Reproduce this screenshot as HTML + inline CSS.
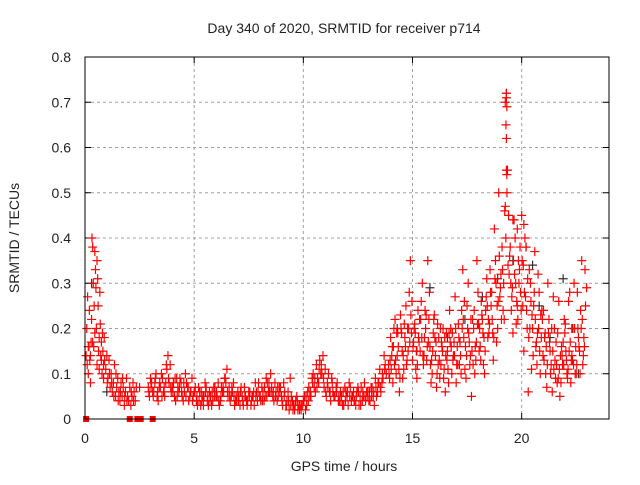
<!DOCTYPE html>
<html><head><meta charset="utf-8"><style>
body{margin:0;background:#fff}
svg text{font-family:"Liberation Sans",sans-serif;font-size:14px;fill:#222}
</style></head><body>
<svg id="chart" width="640" height="480" xmlns="http://www.w3.org/2000/svg">
<rect width="640" height="480" fill="#fff"/>
<text x="344" y="33" text-anchor="middle">Day 340 of 2020, SRMTID for receiver p714</text>
<text transform="translate(19,238) rotate(-90)" text-anchor="middle">SRMTID / TECUs</text>
<text x="344" y="471" text-anchor="middle">GPS time / hours</text>
<g id="grid"></g>
<g id="ticks"></g>
<g id="black"></g>
<g id="red"></g>
<rect x="85" y="57" width="524" height="362" fill="none" stroke="#000" stroke-width="1"/>
</svg>
<script>
const xTicks=[0,5,10,15,20];
const yTicks=[0,0.1,0.2,0.3,0.4,0.5,0.6,0.7,0.8];
const yTickLabels=["0","0.1","0.2","0.3","0.4","0.5","0.6","0.7","0.8"];
const zeroSquares=[0.05,2.05,2.4,2.55,3.1];
const earlyPoints=[[0.05,.14],[0.08,.2],[0.1,.12],[0.12,.27],[0.15,.1],[0.18,.16],[0.2,.24],[0.22,.13],[0.25,.08],[0.28,.17],[0.3,.22],[0.32,.4],[0.35,.38],[0.38,.3],[0.4,.16],[0.42,.25],[0.45,.37],[0.48,.33],[0.5,.29],[0.52,.2],[0.55,.35],[0.58,.31],[0.6,.25],[0.62,.15],[0.65,.18],[0.68,.28],[0.7,.21],[0.72,.14],[0.75,.17],[0.78,.1],[0.8,.19],[0.82,.15],[0.85,.12],[0.88,.18],[0.9,.13],[0.15,.16],[0.25,.14],[0.35,.17],[0.45,.19],[0.55,.12],[0.65,.11],[0.75,.13],[0.85,.09],
[0.95,.11],[1.0,.14],[1.05,.09],[1.1,.13],[1.15,.07],[1.2,.1],[1.25,.06],[1.3,.08],[1.35,.12],[1.4,.05],[1.45,.07],[1.5,.09],[1.55,.06],[1.6,.04],[1.65,.08],[1.7,.05],[1.75,.07],[1.8,.03],[1.85,.06],[1.9,.09],[1.95,.05],[2.0,.04],[2.05,.07],[2.1,.03],[2.15,.05],[2.2,.08],[2.25,.06],[2.3,.04],[2.35,.07],[2.5,.07],[1.02,.08],[1.12,.1],[1.22,.08],[1.32,.05],[1.42,.1],[1.52,.04],[1.62,.06],[1.72,.09],[1.82,.05],[1.92,.04],[2.12,.06],[2.22,.04]];
const midPass1=[.07,.09,.06,.08,.05,.07,.1,.06,.08,.14,.12,.07,.05,.09,.06,.08,.04,.1,.07,.05,.09,.06,.04,.07,.03,.05,.08,.04,.06,.03,.07,.05,.08,.04,.06,.09,.11,.07,.05,.08,.04,.06,.03,.05,.07,.04,.06,.03,.05,.08,.04,.05,.07,.04,.09,.06,.1,.05,.08,.04,.07,.05,.08,.03,.06,.09,.04,.02,.05,.03,.02,.04,.02,.06,.05,.09,.07,.12,.08,.1,.14,.11,.08,.06,.09,.05,.07,.04,.06,.03,.07,.05,.08,.04,.06,.03,.07,.05,.04,.08,.06,.04,.07,.05,.09,.06,.11,.08,.14,.1];
const midPass2=[.05,.08,.06,.1,.04,.07,.09,.05,.11,.08,.06,.08,.04,.07,.09,.05,.06,.08,.04,.06,.05,.07,.03,.06,.04,.05,.07,.03,.05,.04,.07,.05,.03,.07,.06,.08,.05,.04,.06,.03,.04,.05,.07,.03,.05,.04,.06,.05,.03,.06,.08,.04,.06,.05,.08,.06,.07,.04,.06,.05,.07,.03,.06,.04,.02,.05,.03,.04,.02,.03,.03,.05,.03,.07,.05,.1,.06,.09,.13,.1,.07,.05,.1,.04,.06,.05,.08,.04,.05,.03,.06,.03,.07,.05,.04,.06,.03,.07,.05,.04,.06,.04,.07,.03,.05,.08,.06,.09,.12];
const midPass3=[.06,.07,.05,.09,.06,.08,.05,.07,.12,.09,.07,.06,.09,.05,.07,.06,.08,.05,.07,.06,.04,.06,.05,.04,.06,.03,.06,.05,.04,.06,.05,.06,.04,.05,.07,.09,.06,.05,.07,.05,.05,.04,.06,.04,.05,.03,.05,.04,.06,.05,.06,.05,.04,.07,.05,.08,.06,.06,.05,.07,.06,.04,.05,.03,.04,.03,.02,.03,.04,.02,.03,.04,.05,.04,.06,.08,.09,.07,.11,.12,.09,.06,.07,.06,.08,.05,.06,.05,.04,.06,.04,.06,.05,.05,.04,.05,.06,.03,.06,.05,.05,.06,.05,.06,.07,.08,.07,.1,.11];
const latePass1=[.12,.18,.08,.22,.14,.06,.19,.11,.25,.15,.35,.13,.21,.09,.17,.26,.12,.2,.35,.16,.1,.23,.07,.18,.12,.2,.06,.15,.24,.1,.17,.08,.21,.14,.33,.11,.25,.17,.05,.2,.13,.28,.16,.22,.1,.31,.19,.25,.13,.35,.2,.27,.38,.22,.72,.45,.3,.19,.4,.25,.33,.45,.15,.38,.06,.3,.2,.37,.12,.28,.18,.24,.1,.3,.15,.06,.2,.12,.26,.08,.17,.21,.09,.28,.14,.3,.1,.18,.24,.12,.33];
const latePass2=[.09,.14,.2,.1,.16,.23,.09,.18,.13,.28,.19,.17,.11,.24,.15,.3,.18,.13,.22,.08,.19,.14,.21,.09,.16,.11,.19,.08,.2,.13,.27,.16,.12,.24,.18,.09,.3,.14,.22,.1,.35,.15,.26,.12,.24,.18,.33,.22,.42,.17,.5,.32,.24,.7,.55,.36,.27,.44,.21,.35,.28,.25,.4,.2,.33,.11,.25,.16,.32,.1,.22,.18,.07,.22,.12,.27,.09,.19,.05,.14,.22,.13,.26,.08,.2,.1,.28,.15,.35,.18];
const latePass3=[.1,.11,.16,.13,.19,.09,.15,.21,.12,.2,.23,.16,.19,.12,.22,.18,.14,.23,.17,.12,.15,.18,.1,.13,.17,.09,.14,.11,.17,.19,.14,.12,.18,.1,.22,.16,.2,.12,.15,.24,.17,.21,.13,.19,.15,.25,.21,.28,.18,.3,.26,.29,.33,.46,.5,.32,.24,.35,.3,.22,.38,.35,.28,.24,.18,.26,.14,.22,.19,.15,.24,.13,.16,.19,.1,.15,.13,.08,.11,.16,.12,.15,.11,.17,.13,.2,.12,.16,.2,.14,.25];
const latePass4=[.13,.16,.12,.19,.11,.2,.14,.16,.2,.17,.26,.2,.15,.18,.22,.14,.24,.16,.28,.13,.22,.17,.12,.2,.15,.18,.13,.19,.16,.14,.2,.12,.17,.2,.26,.14,.19,.22,.12,.16,.21,.2,.23,.18,.27,.22,.28,.19,.31,.25,.36,.22,.3,.4,.34,.38,.29,.32,.26,.3,.24,.34,.27,.31,.2,.23,.28,.17,.2,.23,.14,.19,.12,.17,.2,.11,.17,.09,.14,.12,.19,.1,.15,.13,.12,.16,.2,.1,.22,.16,.29];
const spikePoints=[[19.3,.71],[19.32,.69],[19.28,.65],[19.3,.62],[19.3,.55],[19.32,.54],[19.25,.47],[19.6,.44],[19.8,.42],[20.1,.43]];
const blackPoints=[[14.3,.2],[15.2,.15],[15.8,.29],[16.6,.18],[17.4,.22],[18.2,.27],[18.9,.31],[19.3,.72],[19.6,.35],[20.2,.38],[20.5,.34],[20.8,.25],[21.3,.18],[21.9,.31],[22.3,.2],[22.6,.1],[0.3,.3],[1.0,.06]];
const xs=t=>85+t*524/24, ys=v=>419-v*362/0.8;
const NS="http://www.w3.org/2000/svg";
function mk(tag,attrs,parent){const e=document.createElementNS(NS,tag);for(const k in attrs)e.setAttribute(k,attrs[k]);parent.appendChild(e);return e;}
const grid=document.getElementById('grid'),ticks=document.getElementById('ticks');
xTicks.forEach(t=>{const x=xs(t);
 if(t>0){const g=mk('line',{x1:x,x2:x,y1:57,y2:419,stroke:'#a0a0a0','stroke-dasharray':'3,3'},grid);}
 const a=mk('line',{x1:x,x2:x,y1:419,y2:413,stroke:'#000'},ticks);
 const b=mk('line',{x1:x,x2:x,y1:57,y2:63,stroke:'#000'},ticks);
 const l=mk('text',{x:x,y:443,'text-anchor':'middle'},ticks);l.textContent=String(t);});
yTicks.forEach((v,i)=>{const y=ys(v);
 if(i>0&&i<yTicks.length-1){const g=mk('line',{x1:85,x2:609,y1:y,y2:y,stroke:'#a0a0a0','stroke-dasharray':'3,3'},grid);}
 const a=mk('line',{x1:85,x2:91,y1:y,y2:y,stroke:'#000'},ticks);
 const b=mk('line',{x1:603,x2:609,y1:y,y2:y,stroke:'#000'},ticks);
 const l=mk('text',{x:71,y:y+5,'text-anchor':'end'},ticks);l.textContent=yTickLabels[i];});
function plus(t,v,g,color){const x=xs(t),y=ys(v);
 const p=mk('path',{d:`M${x-4.5} ${y}h9M${x} ${y-4.5}v9`,stroke:color,'stroke-width':1.2,fill:'none'},g);
 }
const red=document.getElementById('red'),black=document.getElementById('black');
blackPoints.forEach(p=>plus(p[0],p[1],black,'#333'));
earlyPoints.forEach(p=>plus(p[0],p[1],red,'#f00'));
midPass1.forEach((v,i)=>plus(2.9+i*0.1,v,red,'#f00'));
midPass2.forEach((v,i)=>plus(2.95+i*0.1,v,red,'#f00'));
midPass3.forEach((v,i)=>plus(2.925+i*0.1,v,red,'#f00'));
latePass1.forEach((v,i)=>plus(13.9+i*0.1,v,red,'#f00'));
latePass2.forEach((v,i)=>plus(13.95+i*0.1,v,red,'#f00'));
latePass3.forEach((v,i)=>plus(13.925+i*0.1,v,red,'#f00'));
latePass4.forEach((v,i)=>plus(13.975+i*0.1,v,red,'#f00'));
spikePoints.forEach(p=>plus(p[0],p[1],red,'#f00'));
zeroSquares.forEach(t=>{const r=mk('rect',{x:xs(t)-3,y:ys(0)-3,width:6,height:6,fill:'#f00'},red);});
</script>
</body></html>
